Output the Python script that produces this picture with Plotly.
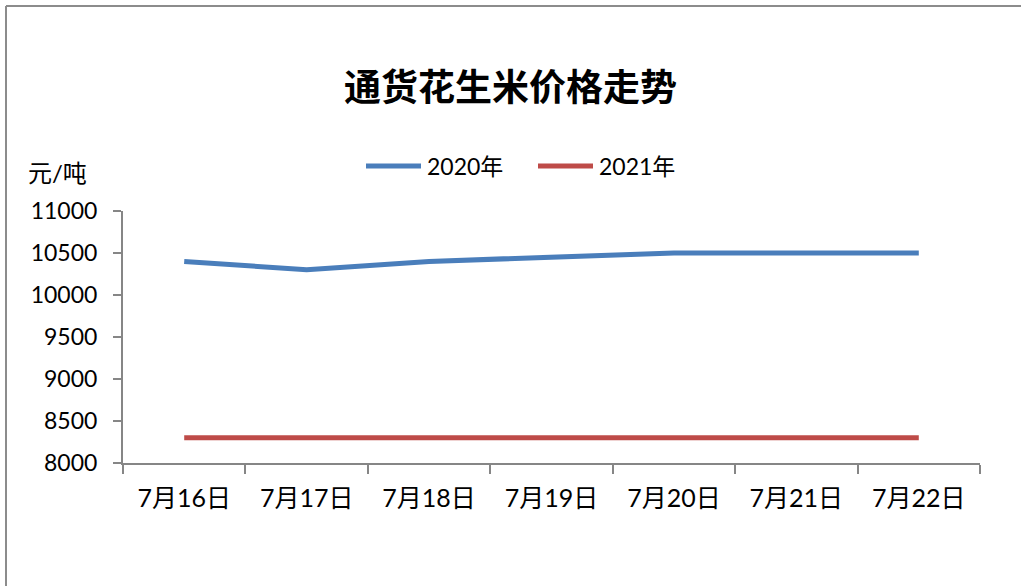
import plotly.graph_objects as go

categories = ["7月16日", "7月17日", "7月18日", "7月19日", "7月20日", "7月21日", "7月22日"]
series_2020 = [10400, 10300, 10400, 10450, 10500, 10500, 10500]
series_2021 = [8300, 8300, 8300, 8300, 8300, 8300, 8300]
series_names = ["2020年", "2021年"]
series_colors = ["#4a7ebb", "#be4b48"]
y_ticks = [8000, 8500, 9000, 9500, 10000, 10500, 11000]
y_tick_text = [str(v) for v in y_ticks]

W, H = 1021, 586
ML, MR, MT, MB = 123, 41, 211, 123
PW, PH = W - ML - MR, H - MT - MB

def px_x(p):
    return (p - ML) / PW

def px_y(p):
    return 1 - (p - MT) / PH

FONT = "Lato, 'Noto Sans CJK SC', sans-serif"
AXIS = "#868686"

fig = go.Figure()
for vals, name, col in zip([series_2020, series_2021], series_names, series_colors):
    fig.add_trace(go.Scatter(x=categories, y=vals, mode="lines", name=name,
                             line=dict(color=col, width=5), showlegend=False))

# Excel-style legend (long line samples)
legend_shapes, legend_ann = [], []
leg_x = [366, 538]
for x0, name, col in zip(leg_x, series_names, series_colors):
    legend_shapes.append(dict(type="line", xref="paper", yref="paper",
                              x0=px_x(x0), x1=px_x(x0 + 55), y0=px_y(166), y1=px_y(166),
                              line=dict(color=col, width=5)))
    legend_ann.append(dict(text=name, xref="paper", yref="paper", x=px_x(x0 + 59), y=px_y(166),
                           xanchor="left", yanchor="middle", showarrow=False,
                           font=dict(size=23)))

fig.update_layout(
    width=W, height=H,
    margin=dict(l=ML, r=MR, t=MT, b=MB),
    paper_bgcolor="white", plot_bgcolor="white",
    font=dict(family=FONT, size=23, color="#000000"),
    title=dict(text="<b>通货花生米价格走势</b>", x=0.5, xanchor="center",
               y=1 - 88 / H, yanchor="middle",
               font=dict(family="'Noto Sans CJK SC', sans-serif", size=37, color="#000")),
    showlegend=False,
    xaxis=dict(type="category", showline=True, linecolor=AXIS, linewidth=2,
               ticks="outside", tickson="boundaries", ticklen=9, tickcolor=AXIS, tickwidth=2,
               showgrid=False, zeroline=False, ticklabelstandoff=12,
               tickfont=dict(size=25), range=[-0.5, 6.5]),
    yaxis=dict(range=[8000, 11000], tickvals=y_ticks, ticktext=y_tick_text,
               showline=True, linecolor=AXIS, linewidth=2,
               ticks="outside", ticklen=8, tickcolor=AXIS, tickwidth=2,
               showgrid=False, zeroline=False, ticklabelstandoff=11,
               tickfont=dict(size=23)),
    annotations=[dict(text="元/吨", xref="paper", yref="paper", x=px_x(26), y=px_y(172),
                      xanchor="left", yanchor="middle", showarrow=False,
                      font=dict(size=24))] + legend_ann,
    shapes=[
        dict(type="line", xref="paper", yref="paper", x0=px_x(6), x1=px_x(1021),
             y0=px_y(6), y1=px_y(6), line=dict(color="#8c8c8c", width=2)),
        dict(type="line", xref="paper", yref="paper", x0=px_x(6), x1=px_x(6),
             y0=px_y(6), y1=px_y(586), line=dict(color="#8c8c8c", width=2)),
    ] + legend_shapes,
)

fig.write_html("out.html", config={"displayModeBar": False},
               post_script="document.body.style.margin='0';")
